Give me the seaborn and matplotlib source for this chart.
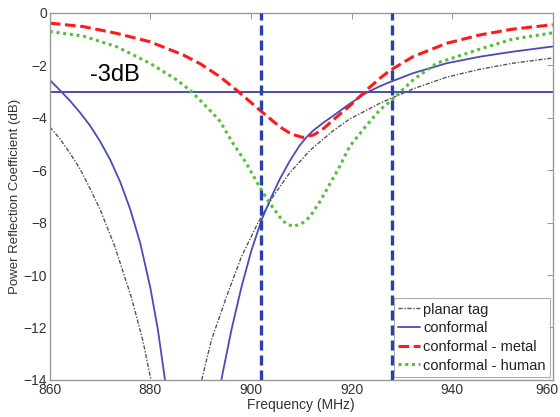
import numpy as np
import pandas as pd
import seaborn as sns
import matplotlib
matplotlib.use("Agg")
import matplotlib.pyplot as plt
import matplotlib.transforms as mtransforms

# values (frequency in MHz, reflection in dB)
# planar tag and conformal dip below the axis, so they come in two branches
planar_left_f = [860, 862, 864, 866, 868, 870, 872.9, 876.2, 878.5, 880.1]
planar_left_db = [-4.35, -4.8, -5.35, -5.95, -6.7, -7.5, -8.9, -10.84, -12.5, -14]
planar_right_f = [890.2, 892.1, 895.1, 898.1, 901.4, 904.4, 907.7, 911.7, 916.3,
                  919.6, 925.6, 927.6, 932.2, 938.9, 945.5, 952, 960]
planar_right_db = [-14, -12.5, -10.84, -9.3, -8.0, -7.0, -6.1, -5.25, -4.5,
                   -4.05, -3.45, -3.28, -2.9, -2.45, -2.15, -1.92, -1.72]

conf_left_f = [860, 862, 864, 866, 868, 870, 872, 874, 876, 878, 880, 881.5, 882.9]
conf_left_db = [-2.56, -2.95, -3.35, -3.8, -4.3, -4.9, -5.6, -6.45, -7.5, -8.8,
                -10.5, -12.1, -14]
conf_right_f = [894.1, 896.1, 898.1, 900.1, 902.1, 904.1, 905.7, 907.7, 909.7, 911,
                912.3, 914.3, 916.3, 919.6, 923, 925.6, 927.6, 932.2, 938.9, 945.5,
                952, 960]
conf_right_db = [-14, -12.1, -10.46, -9.05, -7.9, -7.0, -6.35, -5.65, -5.05, -4.75,
                 -4.5, -4.2, -3.93, -3.47, -3.04, -2.8, -2.64, -2.3, -1.92, -1.67,
                 -1.48, -1.28]

metal_f = [860, 866.6, 873.3, 879.9, 886.5, 890, 893.8, 897.1, 901.7, 905.7,
           908, 910.3, 912.5, 914.5, 916.3, 919.6, 923, 925.6, 927.6, 932.2,
           938.9, 945.5, 952, 960]
metal_db = [-0.39, -0.52, -0.78, -1.1, -1.6, -1.95, -2.43, -2.94, -3.7, -4.34,
            -4.62, -4.75, -4.65, -4.4, -4.09, -3.55, -2.94, -2.5, -2.2, -1.67,
            -1.16, -0.84, -0.62, -0.45]

human_f = [860, 866.6, 873.3, 879.9, 885.2, 888.2, 891, 893.8, 896.4, 899.1,
           901.7, 903.7, 905.7, 907, 908.4, 910, 911.7, 913.7, 915, 917.6,
           919.6, 922.5, 925.6, 927.6, 932.2, 936.9, 945.5, 952, 960]
human_db = [-0.71, -0.88, -1.29, -1.92, -2.55, -3.0, -3.55, -4.12, -4.97, -5.74,
            -6.64, -7.25, -7.78, -8.05, -8.14, -8.05, -7.78, -7.2, -6.76, -5.87,
            -5.1, -4.4, -3.7, -3.39, -2.56, -1.92, -1.38, -1.0, -0.76]

band_edges = [902, 928]
limit_db = -3

series = {
    "planar tag": [(planar_left_f, planar_left_db), (planar_right_f, planar_right_db)],
    "conformal": [(conf_left_f, conf_left_db), (conf_right_f, conf_right_db)],
    "conformal - metal": [(metal_f, metal_db)],
    "conformal - human": [(human_f, human_db)],
}
rows = []
for name, branches in series.items():
    for b, (f, v) in enumerate(branches):
        for fi, vi in zip(f, v):
            rows.append({"freq": fi, "db": vi, "series": name, "branch": b})
df = pd.DataFrame(rows)

sns.set_style("white")
plt.rcParams["font.family"] = ["Liberation Sans", "DejaVu Sans"]

fig = plt.figure(figsize=(5.6, 4.17), dpi=100)
ax = fig.add_axes([0.089, 0.089, 0.898, 0.88])

styles = {
    "planar tag": dict(color="#555555", lw=1.0, ls=(0, (3, 1.2, 1, 1.2))),
    "conformal": dict(color="#4a4ab8", lw=1.3, ls="-"),
    "conformal - metal": dict(color="#ff1a1a", lw=2.2, ls=(0, (3.5, 1.5))),
    "conformal - human": dict(color="#55c035", lw=2.2, ls=(0, (1, 1.2))),
}
for name in series:
    sub = df[df["series"] == name]
    st = styles[name]
    sns.lineplot(data=sub, x="freq", y="db", units="branch", estimator=None, ax=ax,
                 color=st["color"], linewidth=st["lw"], linestyle=st["ls"], label=name)

ax.axhline(limit_db, color="#4a4ab8", lw=1.4, zorder=1)
for xe in band_edges:
    ax.axvline(xe, color="#2a3fae", lw=2.4, ls=(0, (3, 1.5)), zorder=3)

ax.text(873, -2.35, "-3dB", fontsize=17, ha="center", va="center", color="black")

ax.set_xlim(860, 960)
ax.set_ylim(-14, 0)
ax.set_xticks(np.arange(860, 961, 20))
ax.set_yticks(np.arange(-14, 1, 2))
ax.tick_params(direction="in", top=True, right=True, length=4, width=0.6,
               color="#888888", labelsize=10, labelcolor="#333333", pad=2)
# keep the last x label inside the figure
fig.canvas.draw()
xlabels = ax.get_xticklabels()
xlabels[-1].set_transform(xlabels[-1].get_transform()
                          + mtransforms.ScaledTranslation(-4 / 72, 0, fig.dpi_scale_trans))
for sp in ax.spines.values():
    sp.set_color("#999999")
    sp.set_linewidth(1.0)
ax.set_xlabel("Frequency (MHz)", fontsize=10, color="#333333", labelpad=1)
ax.set_ylabel("Power Reflection Coefficient (dB)", fontsize=9.5, color="#333333", labelpad=2)

# one legend entry per series (branches share a label)
handles, labels = ax.get_legend_handles_labels()
uniq = {}
for h, l in zip(handles, labels):
    uniq.setdefault(l, h)
leg = ax.legend(list(uniq.values()), list(uniq.keys()), loc="lower right", fontsize=10.5,
                handlelength=1.5, handletextpad=0.2, borderpad=0.3, labelspacing=0.32,
                frameon=True, fancybox=False, borderaxespad=0.2)
leg.get_frame().set_edgecolor("#999999")
leg.get_frame().set_linewidth(0.8)
for t in leg.get_texts():
    t.set_color("#222222")

fig.savefig("out.png", dpi=100)
